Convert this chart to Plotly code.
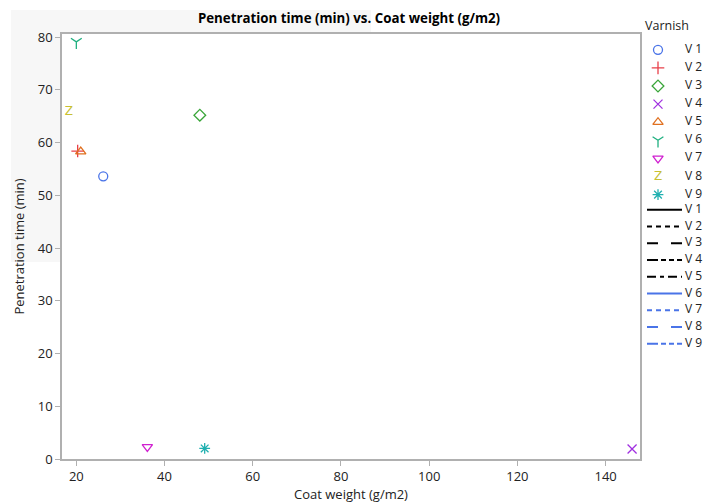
import plotly.graph_objects as go

varnish = ["V 1", "V 2", "V 3", "V 4", "V 5", "V 6", "V 7", "V 8", "V 9"]
coat_weight = [26.1, 20.3, 48.0, 146.0, 21.0, 20.0, 36.1, 18.3, 49.1]
penetration_time = [53.6, 58.4, 65.2, 1.9, 58.3, 79.1, 2.3, 65.9, 2.0]
colors = ["#4a74e8", "#e8404a", "#3aa63a", "#a030e0", "#e07020",
          "#20b080", "#d020d0", "#c8c030", "#20b0b0"]
symbols = ["circle-open", "cross-thin-open", "diamond-open", "x-thin-open",
           "triangle-up-open", "y-down-open", "triangle-down-open", None, "asterisk-open"]
line_colors = ["black"] * 5 + ["#4a74e8"] * 4
line_dashes = ["solid", "5px,4px", "11px,13px", "11px,3px,5px,3px,5px,3px", "9px,4px,4px,4px",
               "solid", "5px,4px", "11px,13px", "11px,3px,5px,3px,5px,3px"]

W, H = 704, 504
ML, MR, MT, MB = 62, 0, 10, 45
PW, PH = W - ML - MR, H - MT - MB
plot_right_px, plot_top_px = 640, 34

fig = go.Figure()

# data marks
for i, name in enumerate(varnish):
    if symbols[i] is None:
        fig.add_trace(go.Scatter(
            x=[coat_weight[i]], y=[penetration_time[i]], mode="text", text=["Z"],
            textfont=dict(color=colors[i], size=12, family="DejaVu Sans"),
            name=name, showlegend=False, xaxis="x", yaxis="y", cliponaxis=False))
    else:
        fig.add_trace(go.Scatter(
            x=[coat_weight[i]], y=[penetration_time[i]], mode="markers", name=name,
            marker=dict(symbol=symbols[i], size=9, color=colors[i],
                        line=dict(color=colors[i], width=1.3)),
            showlegend=False, xaxis="x", yaxis="y", cliponaxis=False))

# manual legend on a pixel-unit helper subplot
mark_x, text_x = 658, 685
row0_m, step_m = 49.8, 18.1
row0_l, step_l = 209.8, 16.75
for i, name in enumerate(varnish):
    yy = row0_m + step_m * i
    if symbols[i] is None:
        fig.add_trace(go.Scatter(x=[mark_x], y=[yy], mode="text", text=["Z"],
                                 textfont=dict(color=colors[i], size=12, family="DejaVu Sans"),
                                 showlegend=False, xaxis="x2", yaxis="y2", hoverinfo="skip",
                                 cliponaxis=False))
    else:
        fig.add_trace(go.Scatter(x=[mark_x], y=[yy], mode="markers",
                                 marker=dict(symbol=symbols[i], size=9, color=colors[i],
                                             line=dict(color=colors[i], width=1.3)),
                                 showlegend=False, xaxis="x2", yaxis="y2", hoverinfo="skip",
                                 cliponaxis=False))
    fig.add_trace(go.Scatter(x=[text_x], y=[yy], mode="text", text=[name], textposition="middle right",
                             textfont=dict(size=12, color="#222"), cliponaxis=False,
                             showlegend=False, xaxis="x2", yaxis="y2", hoverinfo="skip"))
for i, name in enumerate(varnish):
    yy = row0_l + step_l * i
    fig.add_trace(go.Scatter(x=[647, 682], y=[yy, yy], mode="lines",
                             line=dict(color=line_colors[i], dash=line_dashes[i], width=2),
                             showlegend=False, xaxis="x2", yaxis="y2", hoverinfo="skip",
                             cliponaxis=False))
    fig.add_trace(go.Scatter(x=[text_x], y=[yy], mode="text", text=[name], textposition="middle right",
                             textfont=dict(size=12, color="#222"), cliponaxis=False,
                             showlegend=False, xaxis="x2", yaxis="y2", hoverinfo="skip"))
fig.add_trace(go.Scatter(x=[645], y=[27], mode="text", text=["Varnish"], textposition="middle right",
                         textfont=dict(size=12.5, color="#222"), cliponaxis=False,
                         showlegend=False, xaxis="x2", yaxis="y2", hoverinfo="skip"))

def px_x(p):
    return (p - ML) / PW

def px_y(p):
    return (H - MB - p) / PH

fig.add_shape(type="rect", xref="paper", yref="paper", x0=px_x(11), x1=px_x(371),
              y0=px_y(262), y1=px_y(10),
              fillcolor="#f7f7f7", line=dict(width=0), layer="below")
fig.add_shape(type="rect", xref="x domain", yref="y domain", x0=0, x1=1, y0=0, y1=1,
              fillcolor="white", line=dict(width=0), layer="below")

axis_common = dict(showline=True, linecolor="#b0b0b0", linewidth=1.5, mirror=True,
                   ticks="outside", ticklen=5, tickcolor="#b0b0b0", showgrid=False,
                   zeroline=False, tickfont=dict(size=13, color="#222"))
fig.update_layout(
    xaxis=dict(domain=[0, px_x(plot_right_px)], range=[16.75, 147.8],
               tickvals=[20, 40, 60, 80, 100, 120, 140],
               title=dict(text="Coat weight (g/m2)", standoff=3, font=dict(size=13, color="#222")),
               **axis_common),
    yaxis=dict(domain=[0, px_y(plot_top_px)], range=[0, 80.6],
               tickvals=[0, 10, 20, 30, 40, 50, 60, 70, 80],
               title=dict(text="Penetration time (min)", standoff=10, font=dict(size=13, color="#222")),
               **axis_common),
    xaxis2=dict(domain=[px_x(plot_right_px), 1], range=[plot_right_px, W], visible=False,
                anchor="y2", fixedrange=True),
    yaxis2=dict(domain=[0, 1], range=[H - MB, MT], visible=False, anchor="x2", fixedrange=True),
    width=W, height=H,
    margin=dict(l=ML, r=MR, t=MT, b=MB, autoexpand=False),
    paper_bgcolor="white", plot_bgcolor="white",
    font=dict(family="Open Sans, Noto Sans, sans-serif", size=12, color="#222"),
    title=dict(text="<b>Penetration time (min) vs. Coat weight (g/m2)</b>",
               x=349 / W, xanchor="center", xref="container", y=1 - 18 / H, yanchor="middle",
               yref="container", font=dict(size=13.3, color="black")),
    showlegend=False,
)
fig.write_html("out.html", config={"displayModeBar": False},
               post_script="document.body.style.margin='0';document.body.style.overflow='hidden';")
